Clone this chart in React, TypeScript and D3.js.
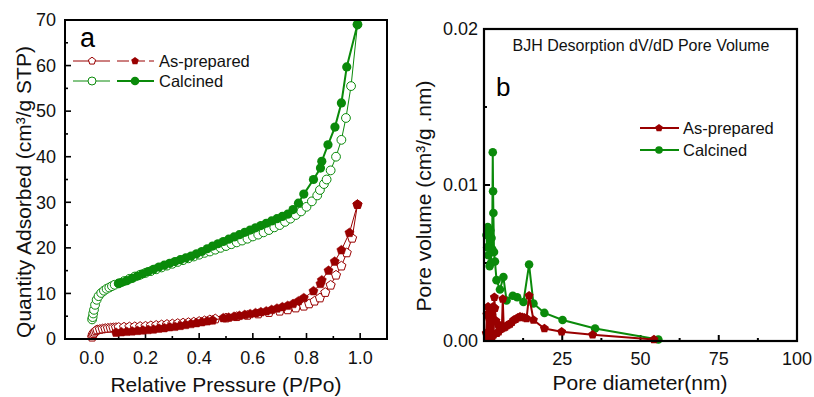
import React from "react";
import * as d3 from "d3";

// ---------- Panel a: N2 isotherms ----------
const calAdsP = [0.001,0.003,0.005,0.008,0.012,0.018,0.025,0.035,0.045,0.055,0.065,0.075,0.085,0.1,0.12,0.14,0.16,0.18,0.2,0.22,0.24,0.26,0.28,0.3,0.32,0.34,0.36,0.38,0.4,0.42,0.44,0.46,0.48,0.5,0.52,0.54,0.56,0.58,0.6,0.62,0.64,0.66,0.68,0.7,0.72,0.74,0.76,0.78,0.8,0.82,0.84,0.85,0.865,0.875,0.89,0.91,0.93,0.947,0.966,0.99];
const calAdsQ = [4.3,4.8,5.6,6.4,7.5,8.6,9.4,10.1,10.6,11.0,11.3,11.6,11.9,12.2,12.7,13.2,13.7,14.1,14.5,14.9,15.3,15.7,16.1,16.5,16.9,17.3,17.7,18.1,18.5,18.9,19.2,19.6,20.0,20.4,20.8,21.2,21.6,22.0,22.5,22.9,23.4,23.9,24.5,25.0,25.7,26.4,27.2,28.0,29.0,30.2,31.5,32.7,34.0,35.0,37.0,40.0,43.7,48.5,55.5,69.0];
const calDesP = [0.99,0.95,0.93,0.906,0.88,0.857,0.852,0.826,0.79,0.77,0.75,0.73,0.71,0.69,0.67,0.65,0.63,0.61,0.59,0.57,0.55,0.53,0.51,0.49,0.47,0.45,0.43,0.41,0.39,0.37,0.35,0.33,0.31,0.29,0.27,0.25,0.23,0.21,0.19,0.17,0.15,0.13,0.11,0.1];
const calDesQ = [69,59.7,51.8,46.5,42.6,39,37.5,35,31.8,29.8,28.4,27.4,26.9,26.4,25.9,25.4,24.9,24.4,23.9,23.4,22.9,22.4,21.9,21.4,20.9,20.4,19.8,19.2,18.7,18.2,17.8,17.4,17.0,16.6,16.2,15.8,15.3,14.8,14.3,13.8,13.3,12.8,12.4,12.2];
const asAdsP = [0.001,0.003,0.006,0.01,0.015,0.02,0.03,0.04,0.05,0.06,0.07,0.08,0.09,0.1,0.12,0.14,0.16,0.18,0.2,0.22,0.24,0.26,0.28,0.3,0.32,0.34,0.36,0.38,0.4,0.42,0.44,0.46,0.5,0.54,0.58,0.62,0.66,0.7,0.73,0.76,0.79,0.81,0.83,0.85,0.87,0.89,0.91,0.93,0.95,0.97,0.99];
const asAdsQ = [0.4,0.8,1.2,1.5,1.8,2.0,2.1,2.2,2.3,2.35,2.4,2.45,2.5,2.55,2.6,2.65,2.7,2.75,2.8,2.9,3.0,3.1,3.2,3.3,3.4,3.5,3.6,3.7,3.85,4.0,4.2,4.4,4.6,4.9,5.2,5.5,5.8,6.1,6.4,6.8,7.2,7.7,8.3,9.0,10.2,11.8,14.0,16.0,18.9,22.1,29.5];
const asDesP = [0.99,0.96,0.93,0.905,0.882,0.857,0.852,0.826,0.79,0.77,0.75,0.73,0.71,0.69,0.67,0.65,0.63,0.61,0.59,0.57,0.55,0.53,0.51,0.49,0.45,0.43,0.41,0.39,0.37,0.35,0.33,0.31,0.29,0.27,0.25,0.23,0.21,0.19,0.17,0.15,0.13,0.11,0.09];
const asDesQ = [29.5,23.3,19.5,17.0,15.0,12.9,12.1,10.5,9.0,8.3,7.7,7.3,7.0,6.7,6.4,6.1,5.9,5.7,5.5,5.3,5.1,4.9,4.7,4.6,4.1,3.9,3.7,3.5,3.3,3.1,2.9,2.7,2.6,2.4,2.3,2.1,2.0,1.9,1.8,1.7,1.6,1.5,1.4];

const xTicksA = [0, 0.2, 0.4, 0.6, 0.8, 1.0];
const xMinorA = [0.1, 0.3, 0.5, 0.7, 0.9];
const yTicksA = [0, 10, 20, 30, 40, 50, 60, 70];
const yMinorA = [5, 15, 25, 35, 45, 55, 65];

// ---------- Panel b: BJH pore size distribution ----------
const calD = [55.7,35.5,25.1,19.3,15.8,14.4,12.6,10.6,9.2,7.2,6.2,5.1,4.0,3.5,3.2,3.0,2.9,2.8,2.6,2.4,2.2,2.0,1.8,1.6,1.4,1.2,1.0,0.8];
const calV = [0.0001,0.0008,0.00135,0.0018,0.0024,0.0049,0.0025,0.0028,0.0029,0.0026,0.0041,0.0033,0.0039,0.0051,0.0057,0.0082,0.0096,0.0121,0.0059,0.0066,0.0050,0.0071,0.0048,0.0070,0.0055,0.0073,0.0060,0.0068];
const asD = [54.3,34.7,24.8,19.3,15.8,14.4,13.6,12.9,12.2,11.5,10.8,10.1,9.5,8.9,8.3,7.8,7.3,6.8,6.3,6.0,5.7,5.3,5.0,4.7,4.4,4.1,3.8,3.5,3.3,3.1,2.9,2.7,2.5,2.3,2.1,1.9,1.7,1.5,1.3,1.1,0.9,0.7];
const asV = [0.0001,0.0004,0.0006,0.0008,0.00135,0.0029,0.00145,0.0015,0.00152,0.00155,0.0015,0.0014,0.00135,0.0012,0.0011,0.00105,0.001,0.0009,0.00085,0.0027,0.0008,0.00075,0.0009,0.0006,0.0011,0.0005,0.0013,0.0021,0.0028,0.0004,0.0022,0.0003,0.0016,0.0003,0.0019,0.0002,0.0014,0.0002,0.0022,0.0003,0.0017,0.0005];

const xTicksB = [25, 50, 75, 100];
const xMinorB = [12.5, 37.5, 62.5, 87.5];
const yTicksB = [0, 0.01, 0.02];
const yTickLabelsB = ["0.00", "0.01", "0.02"];
const yMinorB = [0.005, 0.015];

const RED = "#990000";
const GREEN = "#0a8a0a";
const INK = "#111";
const FONT = "'Liberation Sans', Arial, sans-serif";

function pentagon(cx: number, cy: number, r: number): string {
  const pts: [number, number][] = [];
  for (let k = 0; k < 5; k++) {
    const a = (-90 + k * 72) * Math.PI / 180;
    pts.push([cx + r * Math.cos(a), cy + r * Math.sin(a)]);
  }
  return "M" + pts.map(p => p[0].toFixed(2) + "," + p[1].toFixed(2)).join("L") + "Z";
}

function zip(a: number[], b: number[]): [number, number][] {
  return a.map((v, i) => [v, b[i]]);
}

export default function App() {
  const ax = d3.scaleLinear().domain([-0.1, 1.1]).range([65, 387]);
  const ay = d3.scaleLinear().domain([0, 70]).range([339, 20]);
  const lineA = d3.line<[number, number]>().x(d => ax(d[0])).y(d => ay(d[1]));

  const bx = d3.scaleLinear().domain([0, 100]).range([484, 797]);
  const by = d3.scaleLinear().domain([0, 0.02]).range([341, 29]);
  const lineB = d3.line<[number, number]>().x(d => bx(d[0])).y(d => by(d[1]));

  const calAds = zip(calAdsP, calAdsQ);
  const calDes = zip(calDesP, calDesQ);
  const asAds = zip(asAdsP, asAdsQ);
  const asDes = zip(asDesP, asDesQ);
  const calB = zip(calD, calV);
  const asB = zip(asD, asV);

  return (
    <svg width={814} height={397} style={{ position: "absolute", left: 0, top: 0, background: "#fff" }} fontFamily={FONT}>
      <rect x={0} y={0} width={814} height={397} fill="#fff" />
      {/* ================= Panel a ================= */}
      {xTicksA.map(t => (
        <line key={"xa" + t} x1={ax(t)} x2={ax(t)} y1={339} y2={333} stroke="#000" strokeWidth={1.6} />
      ))}
      {xMinorA.map(t => (
        <line key={"xam" + t} x1={ax(t)} x2={ax(t)} y1={339} y2={336} stroke="#000" strokeWidth={1.6} />
      ))}
      {yTicksA.map(t => (
        <line key={"ya" + t} x1={65} x2={71} y1={ay(t)} y2={ay(t)} stroke="#000" strokeWidth={1.6} />
      ))}
      {yMinorA.map(t => (
        <line key={"yam" + t} x1={65} x2={68} y1={ay(t)} y2={ay(t)} stroke="#000" strokeWidth={1.6} />
      ))}
      {xTicksA.map(t => (
        <text key={"xal" + t} x={ax(t)} y={364} fontSize={18} textAnchor="middle" fill={INK}>{t.toFixed(1)}</text>
      ))}
      {yTicksA.map(t => (
        <text key={"yal" + t} x={56} y={ay(t)} dy="0.35em" fontSize={18} textAnchor="end" fill={INK}>{t}</text>
      ))}
      <text x={226} y={392} fontSize={21} textAnchor="middle" fill={INK}>Relative Pressure (P/Po)</text>
      <text transform="translate(31,192) rotate(-90)" fontSize={21} textAnchor="middle" fill={INK}>Quantity Adsorbed (cm³/g STP)</text>

      <path d={lineA(asAds) || ""} fill="none" stroke={RED} strokeWidth={1} />
      {asAds.map((d, i) => (
        <path key={"aa" + i} d={pentagon(ax(d[0]), ay(d[1]), 4.8)} fill="#fff" stroke={RED} strokeWidth={1} />
      ))}
      <path d={lineA(asDes) || ""} fill="none" stroke={RED} strokeWidth={1} />
      {asDes.map((d, i) => (
        <path key={"ad" + i} d={pentagon(ax(d[0]), ay(d[1]), 4.8)} fill={RED} stroke={RED} strokeWidth={0.5} />
      ))}
      <path d={lineA(calAds) || ""} fill="none" stroke={GREEN} strokeWidth={1} />
      {calAds.map((d, i) => (
        <circle key={"ca" + i} cx={ax(d[0])} cy={ay(d[1])} r={4.4} fill="#fff" stroke={GREEN} strokeWidth={1} />
      ))}
      <path d={lineA(calDes) || ""} fill="none" stroke={GREEN} strokeWidth={2} />
      {calDes.map((d, i) => (
        <circle key={"cd" + i} cx={ax(d[0])} cy={ay(d[1])} r={4.6} fill={GREEN} />
      ))}

      <rect x={65} y={20} width={322} height={319} fill="none" stroke="#000" strokeWidth={2} />
      <text x={80} y={47} fontSize={27} fill="#000">a</text>

      {/* legend a */}
      <line x1={73} x2={110} y1={61} y2={61} stroke={RED} strokeWidth={1} />
      <path d={pentagon(92, 61, 3.8)} fill="#fff" stroke={RED} strokeWidth={1} />
      <line x1={117} x2={154} y1={61} y2={61} stroke={RED} strokeWidth={1} strokeDasharray="12,4" />
      <path d={pentagon(135, 61, 4)} fill={RED} />
      <text x={159} y={67} fontSize={16.5} fill={INK}>As-prepared</text>
      <line x1={73} x2={110} y1={81} y2={81} stroke={GREEN} strokeWidth={1} />
      <circle cx={92} cy={81} r={4} fill="#fff" stroke={GREEN} strokeWidth={1} />
      <line x1={117} x2={154} y1={81} y2={81} stroke={GREEN} strokeWidth={2.2} />
      <circle cx={135} cy={81} r={4.3} fill={GREEN} />
      <text x={159} y={87} fontSize={16.5} fill={INK}>Calcined</text>

      {/* ================= Panel b ================= */}
      {xTicksB.map(t => (
        <line key={"xb" + t} x1={bx(t)} x2={bx(t)} y1={341} y2={335} stroke="#000" strokeWidth={2} />
      ))}
      {xMinorB.map(t => (
        <line key={"xbm" + t} x1={bx(t)} x2={bx(t)} y1={341} y2={338} stroke="#000" strokeWidth={2} />
      ))}
      {yTicksB.map(t => (
        <line key={"yb" + t} x1={484} x2={490} y1={by(t)} y2={by(t)} stroke="#000" strokeWidth={2} />
      ))}
      {yMinorB.map(t => (
        <line key={"ybm" + t} x1={484} x2={487} y1={by(t)} y2={by(t)} stroke="#000" strokeWidth={2} />
      ))}
      {xTicksB.map(t => (
        <text key={"xbl" + t} x={bx(t)} y={365} fontSize={18} textAnchor="middle" fill={INK}>{t}</text>
      ))}
      {yTicksB.map((t, i) => (
        <text key={"ybl" + t} x={478} y={by(t)} dy="0.35em" fontSize={18} textAnchor="end" fill={INK}>{yTickLabelsB[i]}</text>
      ))}
      <text x={640} y={390} fontSize={21} textAnchor="middle" fill={INK}>Pore diameter(nm)</text>
      <text transform="translate(431,196) rotate(-90)" fontSize={21} textAnchor="middle" fill={INK}>Pore volume (cm³/g .nm)</text>
      <text x={641} y={51} fontSize={16} textAnchor="middle" fill={INK}>BJH Desorption dV/dD Pore Volume</text>
      <text x={496} y={96} fontSize={26} fill="#000">b</text>

      <path d={lineB(calB) || ""} fill="none" stroke={GREEN} strokeWidth={2} />
      {calB.map((d, i) => (
        <circle key={"gb" + i} cx={bx(d[0])} cy={by(d[1])} r={4.3} fill={GREEN} />
      ))}
      <path d={lineB(asB) || ""} fill="none" stroke={RED} strokeWidth={2} />
      {asB.map((d, i) => (
        <path key={"rb" + i} d={pentagon(bx(d[0]), by(d[1]), 4.7)} fill={RED} />
      ))}

      <rect x={484} y={29} width={313} height={312} fill="none" stroke="#000" strokeWidth={2.2} />

      {/* legend b */}
      <line x1={640} x2={679} y1={128} y2={128} stroke={RED} strokeWidth={2} />
      <path d={pentagon(659, 128, 4)} fill={RED} />
      <text x={683} y={134} fontSize={16.5} fill={INK}>As-prepared</text>
      <line x1={640} x2={679} y1={150} y2={150} stroke={GREEN} strokeWidth={2} />
      <circle cx={659} cy={150} r={3.8} fill={GREEN} />
      <text x={683} y={156} fontSize={16.5} fill={INK}>Calcined</text>
    </svg>
  );
}
